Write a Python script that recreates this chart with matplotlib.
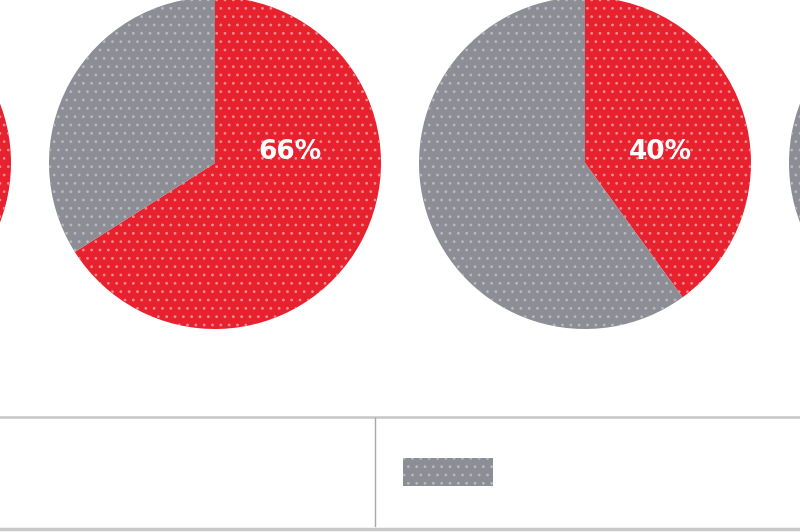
import matplotlib.pyplot as plt
import matplotlib.patches as mpatches

# доли красного сектора для каждого круга (крайние круги обрезаны)
shares = [62, 66, 40, 45]
labels = ['', '66%', '40%', '']
centers_x = [-155, 215, 585, 955]

red = '#e8212e'
gray = '#8d8e95'

plt.rcParams['hatch.linewidth'] = 0.8

fig = plt.figure(figsize=(8, 5.32), dpi=100)
ax = fig.add_axes([0, 0, 1, 1])

H = 532
cy = H - 163
r = 166

for x, s, lab in zip(centers_x, shares, labels):
    wedges, _ = ax.pie([s, 100 - s], colors=[red, gray], startangle=90,
                       counterclock=False, center=(x, cy), radius=r,
                       wedgeprops=dict(edgecolor='#f28a90', linewidth=0),
                       frame=True)
    for w in wedges:
        w.set_hatch('..')
    wedges[1].set_edgecolor('#b8b9bf')
    if lab:
        ax.text(x + 75, cy + 11, lab, color='white', fontsize=19,
                fontweight='bold', ha='center', va='center', zorder=5)

# линии таблицы под кругами
ax.plot([0, 800], [H - 417, H - 417], color='#c6c6c6', lw=1.8)
ax.plot([375, 375], [H - 418, H - 526], color='#a8a8a8', lw=1.0)
ax.plot([0, 800], [H - 529, H - 529], color='#c8c8c8', lw=2.5)

# образец цвета в легенде
ax.add_patch(mpatches.Rectangle((403, H - 486), 90, 28, facecolor=gray,
                                edgecolor='#b8b9bf', linewidth=0, hatch='..'))

ax.set_xlim(0, 800)
ax.set_ylim(0, H)
ax.set_aspect('equal')
ax.axis('off')

plt.savefig('out.png', dpi=100)
